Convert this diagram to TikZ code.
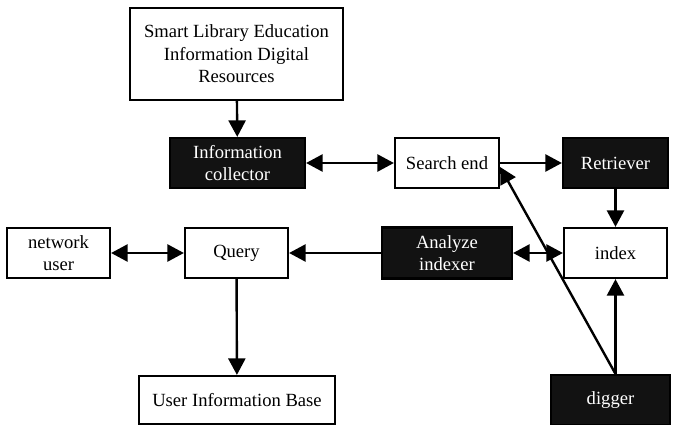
\documentclass[tikz,border=0pt]{standalone}
\usepackage{fontspec}
\setmainfont{Liberation Serif}
\usetikzlibrary{arrows.meta,calc}
\begin{document}
\begin{tikzpicture}[x=1pt,y=-1pt,
  every node/.style={font=\fontsize{18.6}{22.5}\selectfont, align=center, inner sep=0pt},
  wbox/.style={draw=black, fill=white, line width=2.2pt},
  bbox/.style={draw=black, fill=black!93, text=white, line width=2.2pt},
  tip/.style={Triangle[length=16.5pt,width=17pt]},
  conn/.style={line width=2.4pt, -{Triangle[length=16.5pt,width=17pt]}},
  biconn/.style={line width=2.4pt, {Triangle[length=16.5pt,width=17pt]}-{Triangle[length=16.5pt,width=17pt]}}]
\useasboundingbox (0,0) rectangle (673,425);

% boxes
\node[wbox, minimum width=213pt, minimum height=92pt] (src) at (236.5,54)
  {Smart Library Education\\Information Digital\\Resources};
\node[bbox, minimum width=135pt, minimum height=50pt] (coll) at (237.5,163) {Information\\collector};
\node[wbox, minimum width=104pt, minimum height=50pt] (search) at (447,163) {Search end};
\node[bbox, minimum width=105pt, minimum height=50pt] (retr) at (615.5,163) {Retriever};
\node[wbox, minimum width=103pt, minimum height=50pt] (nuser) at (58.5,253) {network\\user};
\node[wbox, minimum width=103pt, minimum height=50pt] (query) at (236.5,253) {Query};
\node[bbox, minimum width=130pt, minimum height=51pt] (anal) at (447,253) {Analyze\\indexer};
\node[wbox, minimum width=103pt, minimum height=50pt] (index) at (615.5,253) {index};
\node[wbox, minimum width=196pt, minimum height=48pt] (uib) at (237,400) {User Information Base};
\node[bbox, minimum width=119pt, minimum height=50pt] (digger) at (610.5,400) {digger};

% connectors
\draw[conn] (src) -- (coll);
\draw[biconn] (coll) -- (search);
\draw[conn] (search) -- (retr);
\draw[conn] (retr) -- (index);
\draw[biconn] (anal) -- (index);
\draw[conn] (anal) -- (query);
\draw[biconn] (nuser) -- (query);
\draw[conn] (query) -- (uib);

\coordinate (dtop) at (index.south |- digger.north);
\coordinate (shit) at ($(search.east)+(0,4)$);
\draw[conn] (dtop) -- (index.south);
\draw[conn] (dtop) -- (shit);
\end{tikzpicture}
\end{document}
